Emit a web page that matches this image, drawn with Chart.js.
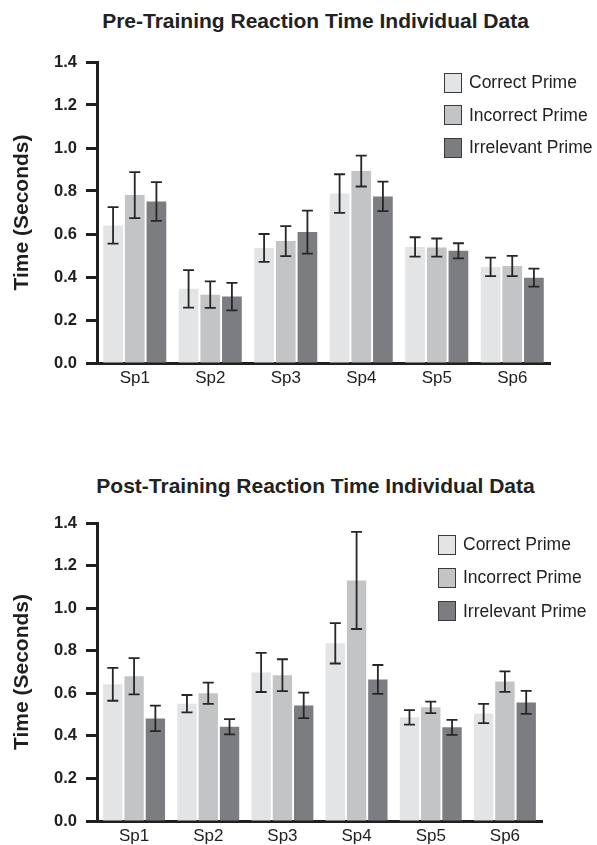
<!DOCTYPE html>
<html>
<head>
<meta charset="utf-8">
<script src="https://cdn.jsdelivr.net/npm/chart.js@4.4.1/dist/chart.umd.min.js"></script>
<style>
    body { margin: 0; background: #fff; font-family: "Liberation Sans", Arial, sans-serif; }
    #page { position: relative; width: 597px; height: 845px; overflow: hidden; }
    canvas { position: absolute; left: 0; }
    .title { position: absolute; left: 0; width: 631px; text-align: center; font-weight: bold; font-size: 21px; line-height: 23px; color: #222; }
    .legend { position: absolute; }
    .legend-row { position: absolute; left: 0; display: flex; align-items: center; white-space: nowrap; }
    .legend-box { width: 16px; height: 18px; border: 1px solid #3a3a3a; margin-right: 7px; }
    .legend-text { font-size: 17.5px; color: #222; }
</style>
</head>
<body>
<div id="page">
    <div class="title" style="top: 9px;">Pre-Training Reaction Time Individual Data</div>
    <canvas id="preChart" width="597" height="420" style="top: 0;"></canvas>
    <div class="legend" id="preLegend" style="left: 444px; top: 72px;"></div>

    <div class="title" style="top: 474px;">Post-Training Reaction Time Individual Data</div>
    <canvas id="postChart" width="597" height="385" style="top: 460px;"></canvas>
    <div class="legend" id="postLegend" style="left: 438px; top: 534px;"></div>
</div>

<script>
// Categories and series
const categories = ['Sp1', 'Sp2', 'Sp3', 'Sp4', 'Sp5', 'Sp6'];
const seriesNames = ['Correct Prime', 'Incorrect Prime', 'Irrelevant Prime'];
const seriesColors = ['#e3e4e6', '#c3c4c6', '#7c7d81'];
const yTicks = [0, 0.2, 0.4, 0.6, 0.8, 1.0, 1.2, 1.4];

// Pre-training means (seconds) and error bars
const preCorrect = [0.64, 0.345, 0.535, 0.788, 0.54, 0.447];
const preCorrectErr = [0.085, 0.087, 0.065, 0.09, 0.045, 0.043];
const preIncorrect = [0.781, 0.318, 0.567, 0.893, 0.537, 0.451];
const preIncorrectErr = [0.107, 0.062, 0.07, 0.072, 0.042, 0.047];
const preIrrelevant = [0.751, 0.309, 0.609, 0.775, 0.522, 0.397];
const preIrrelevantErr = [0.09, 0.064, 0.10, 0.069, 0.035, 0.042];

// Post-training means (seconds) and error bars
const postCorrect = [0.642, 0.551, 0.698, 0.835, 0.487, 0.505];
const postCorrectErr = [0.077, 0.041, 0.092, 0.095, 0.034, 0.045];
const postIncorrect = [0.68, 0.6, 0.685, 1.13, 0.534, 0.655];
const postIncorrectErr = [0.085, 0.05, 0.075, 0.228, 0.027, 0.048];
const postIrrelevant = [0.482, 0.443, 0.543, 0.665, 0.44, 0.557];
const postIrrelevantErr = [0.06, 0.036, 0.06, 0.068, 0.035, 0.054];

const FONT = '"Liberation Sans", Arial, sans-serif';
const INK = '#1f1f1f';

// Draws the +/- error bars on top of each bar
const errorBarPlugin = {
    id: 'errorBars',
    afterDatasetsDraw(chart) {
        const ctx = chart.ctx;
        const y = chart.scales.y;
        ctx.save();
        ctx.strokeStyle = '#262626';
        ctx.lineWidth = 1.8;
        chart.data.datasets.forEach((ds, i) => {
            chart.getDatasetMeta(i).data.forEach((bar, j) => {
                const top = y.getPixelForValue(ds.data[j] + ds.errors[j]);
                const bottom = y.getPixelForValue(ds.data[j] - ds.errors[j]);
                const half = 5.5;
                ctx.beginPath();
                ctx.moveTo(bar.x, top);
                ctx.lineTo(bar.x, bottom);
                ctx.moveTo(bar.x - half, top);
                ctx.lineTo(bar.x + half, top);
                ctx.moveTo(bar.x - half, bottom);
                ctx.lineTo(bar.x + half, bottom);
                ctx.stroke();
            });
        });
        ctx.restore();
    }
};

function makeChart(id, values, errors, padding, xHeight) {
    const datasets = seriesNames.map((name, i) => ({
        label: name,
        data: values[i],
        errors: errors[i],
        backgroundColor: seriesColors[i],
        borderWidth: 0,
        categoryPercentage: 0.861,
        barPercentage: 0.91
    }));

    return new Chart(document.getElementById(id), {
        type: 'bar',
        data: { labels: categories, datasets: datasets },
        plugins: [errorBarPlugin],
        options: {
            responsive: false,
            animation: false,
            layout: { padding: padding },
            plugins: {
                legend: { display: false },
                tooltip: { enabled: false }
            },
            scales: {
                x: {
                    grid: { display: false, drawTicks: false },
                    border: { display: true, width: 3, color: INK },
                    ticks: { color: '#222', padding: 5, font: { family: FONT, size: 17 } },
                    afterFit: (scale) => { scale.height = xHeight; }
                },
                y: {
                    min: 0,
                    max: 1.4,
                    afterBuildTicks: (scale) => { scale.ticks = yTicks.map(v => ({ value: v })); },
                    grid: { drawOnChartArea: false, drawTicks: true, tickLength: 11, tickWidth: 3, tickColor: INK },
                    border: { display: true, width: 3, color: INK },
                    ticks: {
                        color: INK,
                        padding: 9,
                        font: { family: FONT, size: 16.5, weight: 'bold' },
                        callback: (v) => Number(v).toFixed(1)
                    },
                    title: {
                        display: true,
                        text: 'Time (Seconds)',
                        color: INK,
                        padding: { top: 10, bottom: 0 },
                        font: { family: FONT, size: 21, weight: 'bold' }
                    },
                    afterFit: (scale) => { scale.width = 97; }
                }
            }
        }
    });
}

// HTML legend with boxes
function makeLegend(id, rowGap) {
    const el = document.getElementById(id);
    seriesNames.forEach((name, i) => {
        const row = document.createElement('div');
        row.className = 'legend-row';
        row.style.top = (i * rowGap) + 'px';
        row.innerHTML = `<div class="legend-box" style="background:${seriesColors[i]}"></div><span class="legend-text">${name}</span>`;
        el.appendChild(row);
    });
}

makeChart('preChart',
    [preCorrect, preIncorrect, preIrrelevant],
    [preCorrectErr, preIncorrectErr, preIrrelevantErr],
    { top: 62, right: 47, bottom: 0, left: 0 }, 57);

makeChart('postChart',
    [postCorrect, postIncorrect, postIrrelevant],
    [postCorrectErr, postIncorrectErr, postIrrelevantErr],
    { top: 63, right: 55, bottom: 0, left: 0 }, 24);

makeLegend('preLegend', 32.7);
makeLegend('postLegend', 33.3);
</script>
</body>
</html>
